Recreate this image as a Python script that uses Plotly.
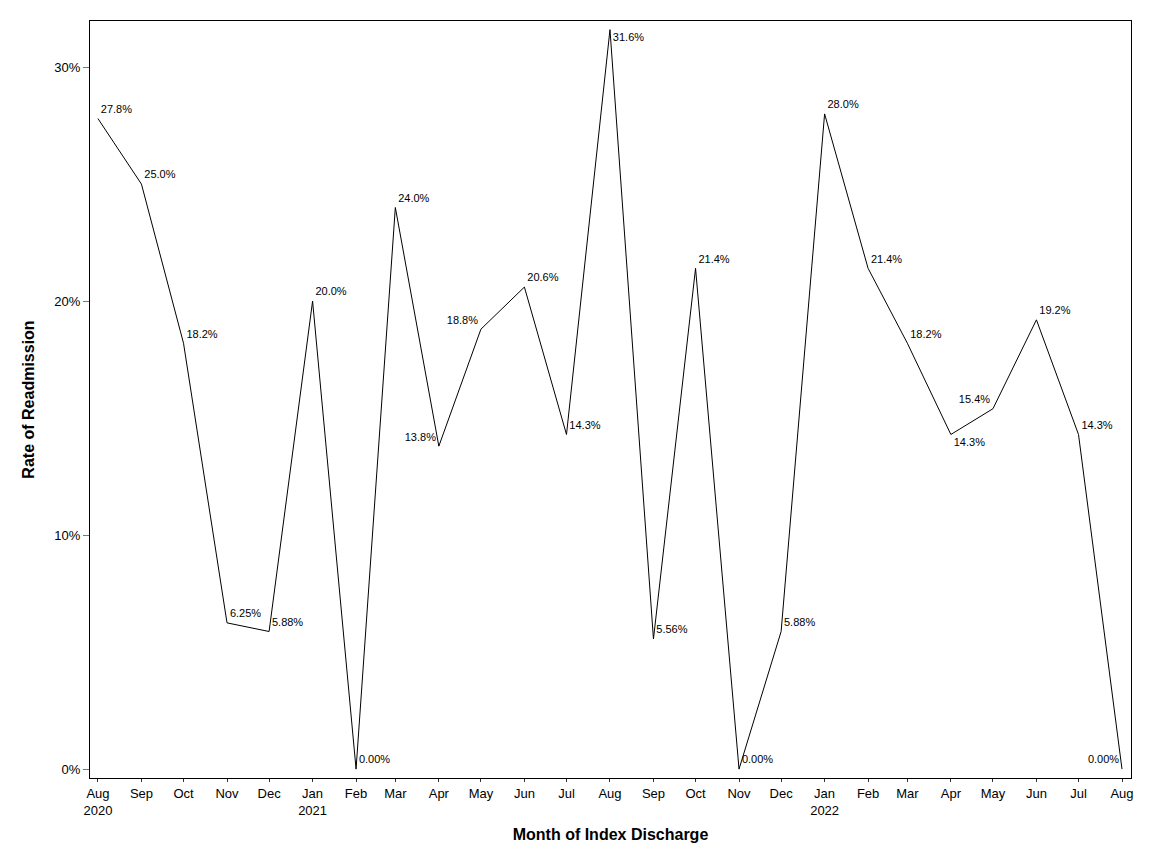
import plotly.graph_objects as go

months = ["2020-08-01", "2020-09-01", "2020-10-01", "2020-11-01", "2020-12-01",
          "2021-01-01", "2021-02-01", "2021-03-01", "2021-04-01", "2021-05-01",
          "2021-06-01", "2021-07-01", "2021-08-01", "2021-09-01", "2021-10-01",
          "2021-11-01", "2021-12-01", "2022-01-01", "2022-02-01", "2022-03-01",
          "2022-04-01", "2022-05-01", "2022-06-01", "2022-07-01", "2022-08-01"]
rate_pct = [27.8, 25.0, 18.2, 6.25, 5.88, 20.0, 0.0, 24.0, 13.8, 18.8, 20.6, 14.3,
            31.6, 5.56, 21.4, 0.0, 5.88, 28.0, 21.4, 18.2, 14.3, 15.4, 19.2, 14.3, 0.0]
tick_labels = ["Aug<br>2020", "Sep", "Oct", "Nov", "Dec", "Jan<br>2021", "Feb", "Mar",
               "Apr", "May", "Jun", "Jul", "Aug", "Sep", "Oct", "Nov", "Dec",
               "Jan<br>2022", "Feb", "Mar", "Apr", "May", "Jun", "Jul", "Aug"]
label_pos = ["top right", "top right", "top right", "top right", "top right",
             "top right", "top right", "top right", "top left", "top left",
             "top right", "top right", "bottom right", "top right", "top right",
             "top right", "top right", "top right", "top right", "top right",
             "bottom right", "top left", "top right", "top right", "top left"]

rates = [v / 100 for v in rate_pct]
labels = [f"{v:#.3g}%" for v in rate_pct]

FONT = "Liberation Sans, Arial, sans-serif"

fig = go.Figure()
fig.add_trace(go.Scatter(
    x=months, y=rates, mode="lines+markers+text",
    line=dict(color="black", width=1),
    marker=dict(size=3, color="rgba(0,0,0,0)"),
    text=labels, textposition=label_pos,
    textfont=dict(family=FONT, size=11, color="black"),
    cliponaxis=False, showlegend=False, hoverinfo="x+y",
))

fig.update_layout(
    width=1152, height=864,
    margin=dict(l=82, r=29, t=13, b=94),
    paper_bgcolor="white", plot_bgcolor="white",
    font=dict(family=FONT, size=13, color="black"),
)
fig.update_xaxes(
    type="date",
    range=["2020-07-26 08:00", "2022-08-07 10:00"],
    tickvals=months, ticktext=tick_labels, tickangle=0,
    ticks="outside", ticklen=3, tickcolor="#333",
    showline=True, linecolor="black", linewidth=1, mirror=True,
    showgrid=False, zeroline=False,
    tickfont=dict(size=13),
    title=dict(text="<b>Month of Index Discharge</b>", font=dict(size=16), standoff=12),
)
fig.update_yaxes(
    range=[-0.0038, 0.3197],
    tickvals=[0, 0.1, 0.2, 0.3], tickformat=".0%",
    ticks="outside", ticklen=6, tickcolor="#777",
    showline=True, linecolor="black", linewidth=1, mirror=True,
    showgrid=False, zeroline=False,
    tickfont=dict(size=13),
    title=dict(text="<b>Rate of Readmission</b>", font=dict(size=16), standoff=15),
)

fig.write_html("out.html")
